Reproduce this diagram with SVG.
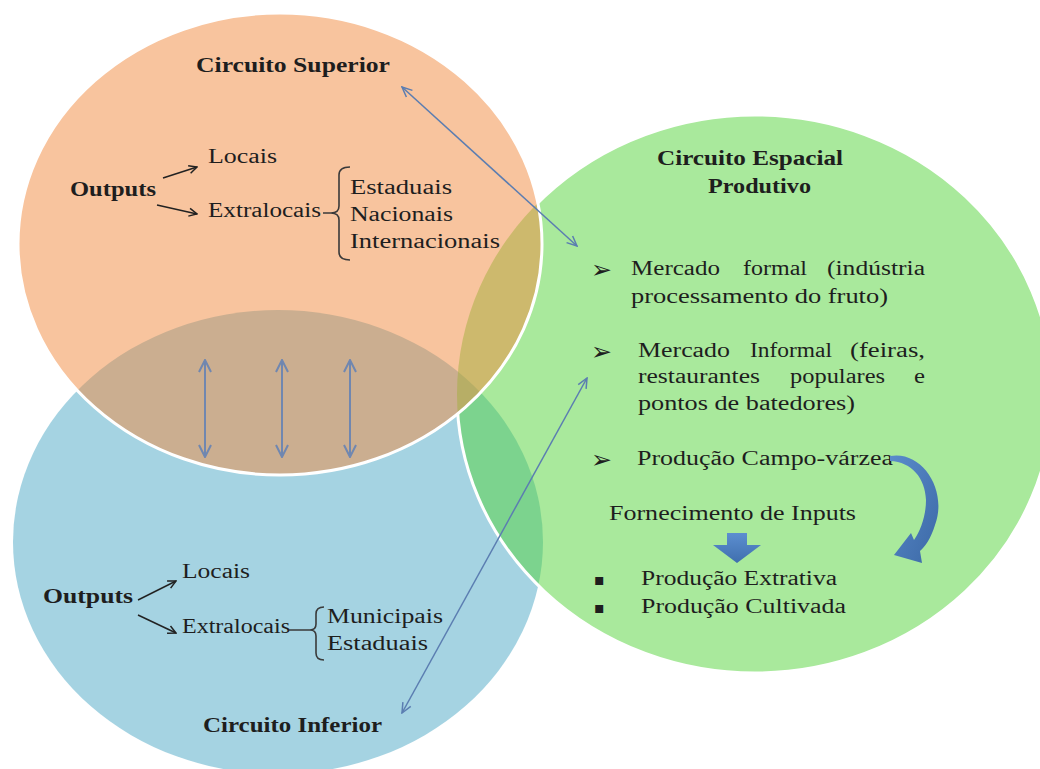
<svg xmlns="http://www.w3.org/2000/svg" width="1040" height="769" viewBox="0 0 1040 769">
<style>
.t{font-family:"Liberation Serif","Times New Roman",serif;font-size:20px;fill:#1e1e1e}
.b{font-weight:bold}
.bl{font-family:"DejaVu Sans",sans-serif;font-size:25px;font-weight:bold;fill:#1e1e1e}
.sq{font-family:"DejaVu Sans",sans-serif;font-size:16px;fill:#1e1e1e}
.fill{fill-opacity:0.5;stroke:none}
.ring{fill:none;stroke:#ffffff;stroke-width:3}
.ba{fill:none;stroke:#5B7DB1;stroke-width:1.5}
.va{fill:none;stroke:#7087B0;stroke-width:2}
.ka{fill:none;stroke:#222222;stroke-width:1.5}
.br{fill:none;stroke:#3a3a3a;stroke-width:1.6}
</style>
<defs>
<marker id="mb" viewBox="0 0 12 12" refX="11" refY="6" markerWidth="12" markerHeight="12" markerUnits="userSpaceOnUse" orient="auto-start-reverse">
<path d="M1,1.5 L11,6 L1,10.5" fill="none" stroke="#5B7DB1" stroke-width="1.5"/>
</marker>
<marker id="mv" viewBox="0 0 14 14" refX="13" refY="7" markerWidth="14" markerHeight="14" markerUnits="userSpaceOnUse" orient="auto-start-reverse">
<path d="M1,1 L13,7 L1,13" fill="none" stroke="#7087B0" stroke-width="2"/>
</marker>
<marker id="mk" viewBox="0 0 10 10" refX="9" refY="5" markerWidth="10" markerHeight="10" markerUnits="userSpaceOnUse" orient="auto">
<path d="M1,1 L9,5 L1,9" fill="none" stroke="#222222" stroke-width="1.5"/>
</marker>
<mask id="outOrange" maskUnits="userSpaceOnUse" x="0" y="0" width="1040" height="769">
<rect x="0" y="0" width="1040" height="769" fill="#ffffff"/>
<ellipse cx="280" cy="244" rx="262" ry="231" fill="#000000"/>
</mask>
<linearGradient id="gc" x1="0" y1="0" x2="1" y2="1">
<stop offset="0" stop-color="#5A8BCB"/>
<stop offset="1" stop-color="#3C69A6"/>
</linearGradient>
<linearGradient id="gd" x1="0" y1="0" x2="0" y2="1">
<stop offset="0" stop-color="#5C8ED0"/>
<stop offset="1" stop-color="#3F6FAE"/>
</linearGradient>
</defs>

<rect x="0" y="0" width="1040" height="769" fill="#ffffff"/>

<g id="node-inferior">
<ellipse class="fill" cx="278" cy="542" rx="265" ry="232" fill="#4BA7C5"/>
<text class="t b" x="43" y="603" textLength="90" lengthAdjust="spacingAndGlyphs">Outputs</text>
<text class="t" x="182" y="578" textLength="68" lengthAdjust="spacingAndGlyphs">Locais</text>
<text class="t" x="182" y="633" textLength="108" lengthAdjust="spacingAndGlyphs">Extralocais</text>
<path class="br" d="M289,630 L310,630 M324,607 Q316,607 316,614 L316,624 Q316,630 310,630 Q316,630 316,636 L316,653 Q316,660 324,660"/>
<text class="t" x="327" y="623" textLength="116" lengthAdjust="spacingAndGlyphs">Municipais</text>
<text class="t" x="327" y="650" textLength="101" lengthAdjust="spacingAndGlyphs">Estaduais</text>
<text class="t b" x="203" y="732" textLength="179" lengthAdjust="spacingAndGlyphs">Circuito Inferior</text>
</g>

<g id="node-espacial">
<ellipse class="fill" cx="755" cy="394" rx="298" ry="279" fill="#53D339"/>
<ellipse class="ring" cx="755" cy="394" rx="298" ry="279" mask="url(#outOrange)"/>
<text class="t b" x="657" y="165" textLength="186" lengthAdjust="spacingAndGlyphs">Circuito Espacial</text>
<text class="t b" x="708" y="193" textLength="103" lengthAdjust="spacingAndGlyphs">Produtivo</text>

<text class="bl" x="591" y="278">➢</text>
<text class="t" x="631" y="275" textLength="89" lengthAdjust="spacingAndGlyphs">Mercado</text>
<text class="t" x="743" y="275" textLength="64" lengthAdjust="spacingAndGlyphs">formal</text>
<text class="t" x="827" y="275" textLength="98" lengthAdjust="spacingAndGlyphs">(indústria</text>
<text class="t" x="631" y="303" textLength="257" lengthAdjust="spacingAndGlyphs">processamento do fruto)</text>

<text class="bl" x="591" y="360">➢</text>
<text class="t" x="638" y="357" textLength="92" lengthAdjust="spacingAndGlyphs">Mercado</text>
<text class="t" x="750" y="357" textLength="82" lengthAdjust="spacingAndGlyphs">Informal</text>
<text class="t" x="850" y="357" textLength="75" lengthAdjust="spacingAndGlyphs">(feiras,</text>
<text class="t" x="638" y="383" textLength="122" lengthAdjust="spacingAndGlyphs">restaurantes</text>
<text class="t" x="790" y="383" textLength="95" lengthAdjust="spacingAndGlyphs">populares</text>
<text class="t" x="914" y="383" textLength="11" lengthAdjust="spacingAndGlyphs">e</text>
<text class="t" x="638" y="410" textLength="217" lengthAdjust="spacingAndGlyphs">pontos de batedores)</text>

<text class="bl" x="591" y="468">➢</text>
<text class="t" x="637" y="465" textLength="256" lengthAdjust="spacingAndGlyphs">Produção Campo-várzea</text>

<path d="M890,456 C922,450 948,490 935,525 C931,538 925,547 920,551 L922,563 L894,555 L911,533 L914,540 C921,530 926,515 926,500 C925,478 912,462 890,461 Z" fill="url(#gc)"/>

<text class="t" x="609" y="520" textLength="247" lengthAdjust="spacingAndGlyphs">Fornecimento de Inputs</text>
<path d="M727,533 L747,533 L747,545 L761,545 L737,563 L713,545 L727,545 Z" fill="url(#gd)"/>

<text class="sq" x="594" y="585">▪</text>
<text class="t" x="641" y="585" textLength="196" lengthAdjust="spacingAndGlyphs">Produção Extrativa</text>
<text class="sq" x="594" y="613">▪</text>
<text class="t" x="641" y="613" textLength="205" lengthAdjust="spacingAndGlyphs">Produção Cultivada</text>
</g>

<g id="node-superior">
<ellipse class="fill" cx="280" cy="244" rx="262" ry="231" fill="#F1893D"/>
<ellipse class="ring" cx="280" cy="244" rx="262" ry="231"/>
<text class="t b" x="196" y="72" textLength="194" lengthAdjust="spacingAndGlyphs">Circuito Superior</text>
<text class="t b" x="70" y="196" textLength="86" lengthAdjust="spacingAndGlyphs">Outputs</text>
<text class="t" x="208" y="163" textLength="69" lengthAdjust="spacingAndGlyphs">Locais</text>
<text class="t" x="208" y="217" textLength="113" lengthAdjust="spacingAndGlyphs">Extralocais</text>
<path class="br" d="M323,213 L331,213 M350,167 Q339,167 339,175 L339,206 Q339,213 331,213 Q339,213 339,220 L339,252 Q339,260 350,260"/>
<text class="t" x="350" y="194" textLength="102" lengthAdjust="spacingAndGlyphs">Estaduais</text>
<text class="t" x="350" y="221" textLength="103" lengthAdjust="spacingAndGlyphs">Nacionais</text>
<text class="t" x="350" y="248" textLength="150" lengthAdjust="spacingAndGlyphs">Internacionais</text>
</g>

<g id="connectors">
<path class="ka" d="M163,178 L197,167" marker-end="url(#mk)"/>
<path class="ka" d="M157,205 L197,214" marker-end="url(#mk)"/>
<path class="ka" d="M138,600 L176,581" marker-end="url(#mk)"/>
<path class="ka" d="M138,615 L176,633" marker-end="url(#mk)"/>
<path class="ba" d="M402,87 L577,246" marker-start="url(#mb)" marker-end="url(#mb)"/>
<path class="ba" d="M402,713 L587,378" marker-start="url(#mb)" marker-end="url(#mb)"/>
<path class="va" d="M205,360 L205,457" marker-start="url(#mv)" marker-end="url(#mv)"/>
<path class="va" d="M282,360 L282,457" marker-start="url(#mv)" marker-end="url(#mv)"/>
<path class="va" d="M350,360 L350,457" marker-start="url(#mv)" marker-end="url(#mv)"/>
</g>
</svg>
